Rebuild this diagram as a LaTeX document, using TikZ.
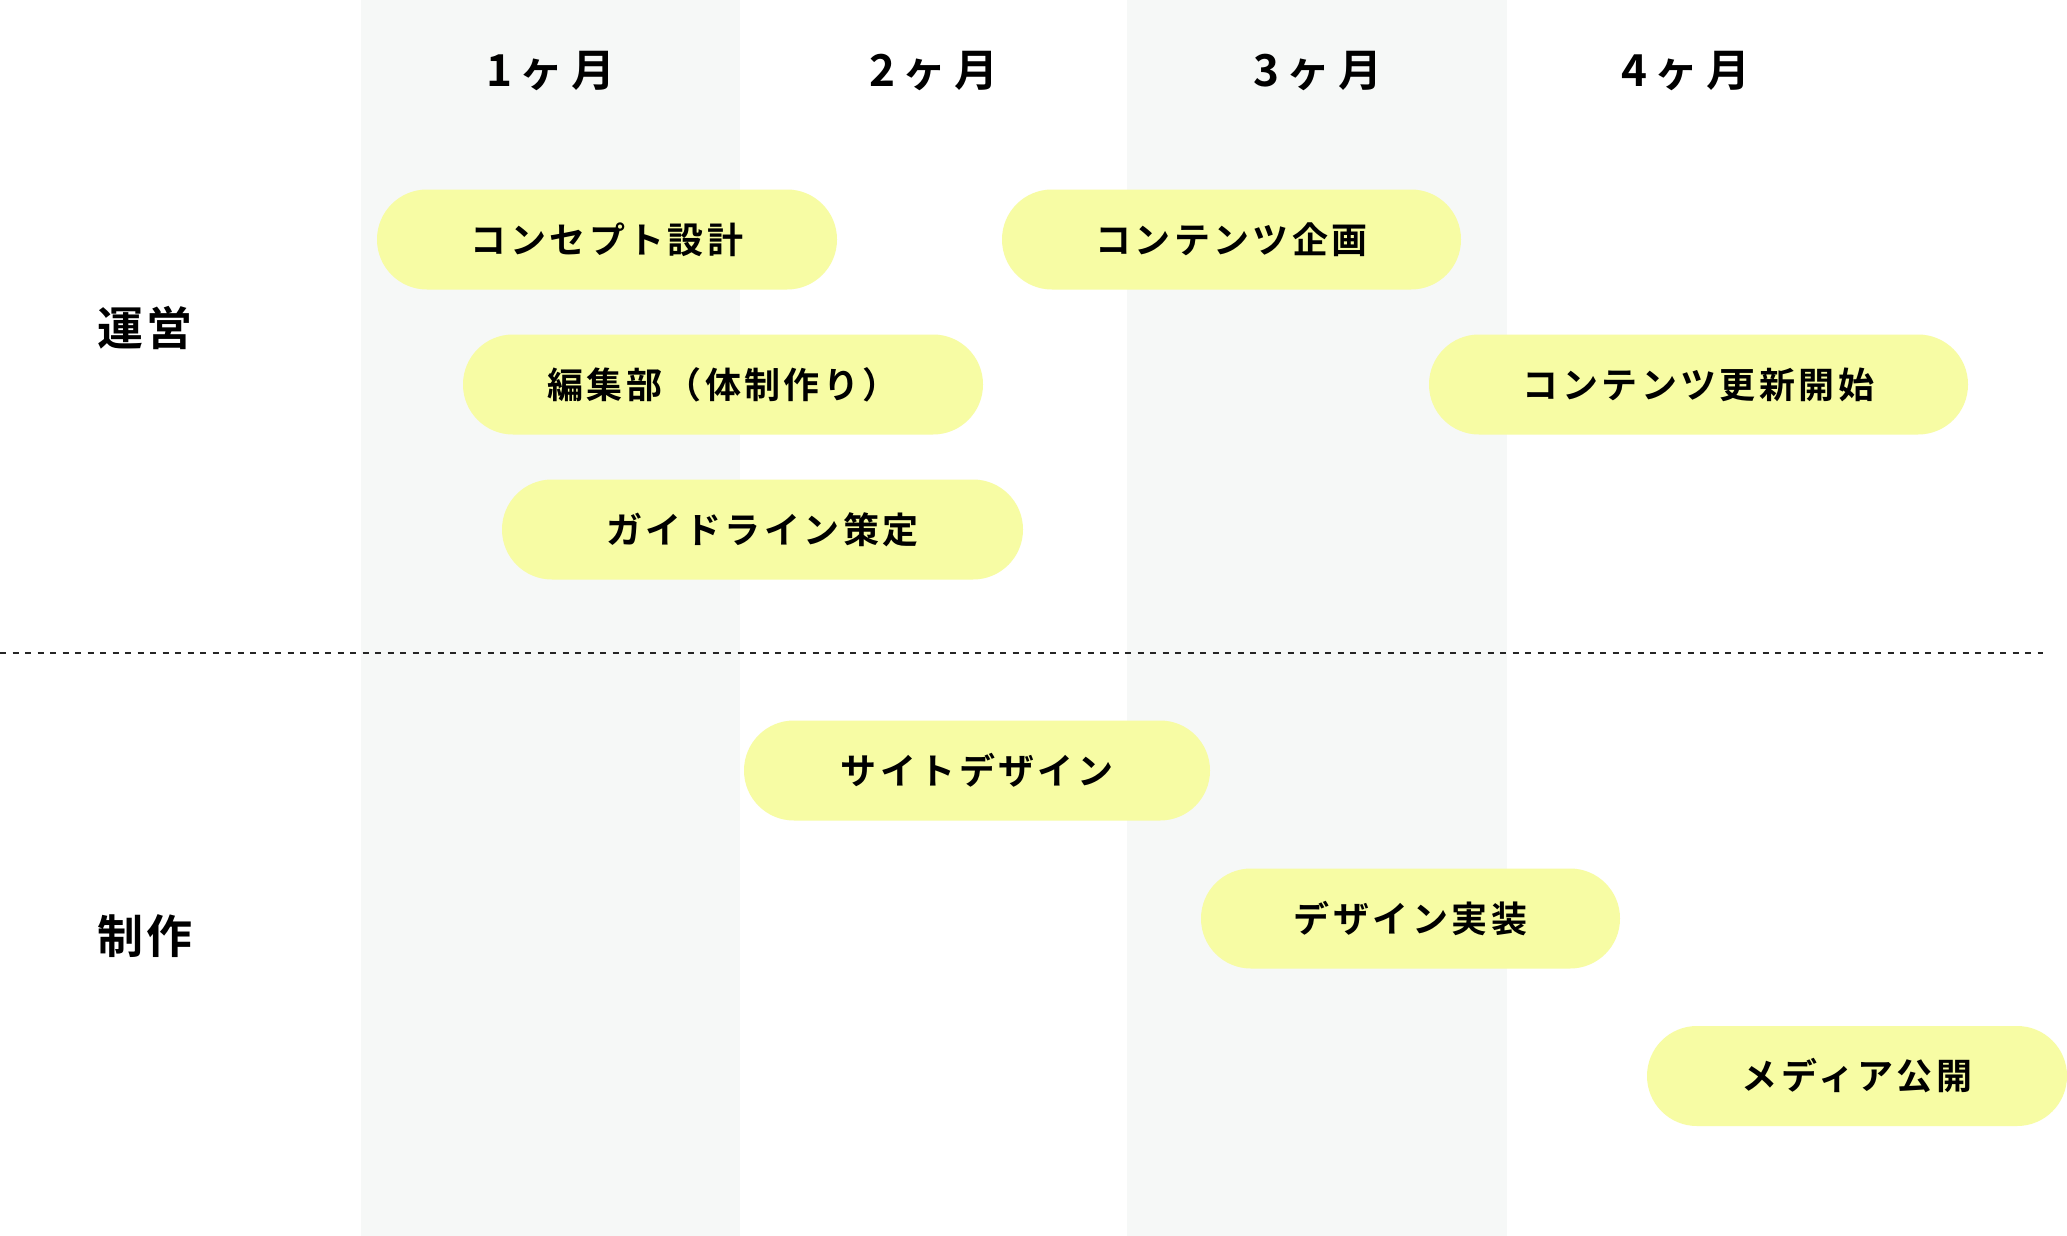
\documentclass[tikz,border=0pt]{standalone}
\usepackage{fontspec}
\newfontfamily\jpsmall{Noto Sans CJK JP}[LetterSpace=9.5,BoldFont={* Bold}]
\newfontfamily\jpmonth{Noto Sans CJK JP}[LetterSpace=18,BoldFont={* Bold}]
\newfontfamily\jprow{Noto Sans CJK JP}[LetterSpace=6,BoldFont={* Bold}]
\definecolor{colgray}{HTML}{F6F8F7}
\definecolor{pillyellow}{HTML}{F7FCA4}
\tikzset{
  pill/.style={fill=pillyellow, rounded corners=49.9pt, minimum height=100pt, inner sep=0pt,
    font=\jpsmall\bfseries\fontsize{36}{42}\selectfont, text=black},
  month/.style={font=\jpmonth\bfseries\fontsize{44}{50}\selectfont, text=black},
  rowlabel/.style={font=\jprow\bfseries\fontsize{46}{52}\selectfont, text=black},
  divider/.style={line width=1.6pt, dash pattern=on 6pt off 6.5pt, color=black!85}
}
\begin{document}
\begin{tikzpicture}[x=1pt,y=-1pt]
\useasboundingbox (0,0) rectangle (2067,1236);
\fill[white] (0,0) rectangle (2067,1236);
% column backgrounds
\fill[colgray] (361,0) rectangle (740,1236);
\fill[colgray] (1127,0) rectangle (1507,1236);
% month headers
\node[month] (m1) at (551,71) {1ヶ月};
\node[month] (m2) at (934,71) {2ヶ月};
\node[month] (m3) at (1318,71) {3ヶ月};
\node[month] (m4) at (1686,71) {4ヶ月};
% row labels
\node[rowlabel] (r1) at (145,328) {運営};
\node[rowlabel] (r2) at (145,936) {制作};
% divider
\coordinate (dl) at (0,653);
\coordinate (dr) at (2043,653);
\draw[divider] (dl) -- (dr);
% pills
\node[pill, minimum width=460pt] (p1) at (607,239.5) {コンセプト設計};
\node[pill, minimum width=520pt] (p2) at (723,384.5) {編集部（体制作り）};
\node[pill, minimum width=521pt] (p3) at (762.5,529.5) {ガイドライン策定};
\node[pill, minimum width=459pt] (p4) at (1231.5,239.5) {コンテンツ企画};
\node[pill, minimum width=539pt] (p5) at (1698.5,384.5) {コンテンツ更新開始};
\node[pill, minimum width=466pt] (p6) at (977,770.5) {サイトデザイン};
\node[pill, minimum width=419pt] (p7) at (1410.5,918.5) {デザイン実装};
\node[pill, minimum width=420pt] (p8) at (1857,1076) {メディア公開};
\end{tikzpicture}
\end{document}
